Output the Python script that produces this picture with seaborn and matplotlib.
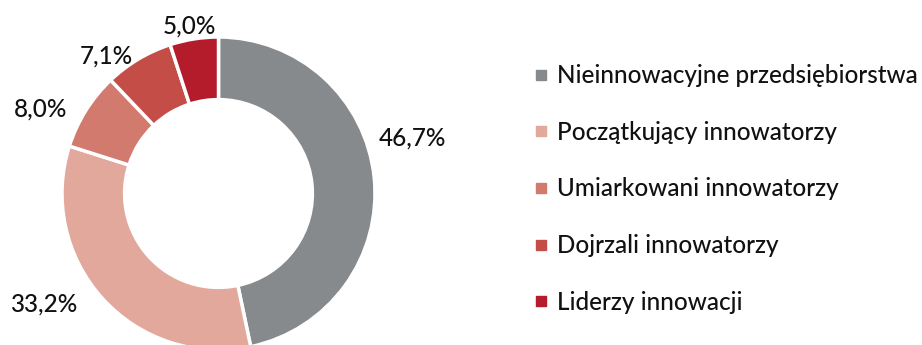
import matplotlib
matplotlib.use("Agg")
import matplotlib.pyplot as plt
from matplotlib.lines import Line2D
import seaborn as sns

categories = [
    "Nieinnowacyjne przedsiębiorstwa",
    "Początkujący innowatorzy",
    "Umiarkowani innowatorzy",
    "Dojrzali innowatorzy",
    "Liderzy innowacji",
]
shares = [46.7, 33.2, 8.0, 7.1, 5.0]
value_labels = ["46,7%", "33,2%", "8,0%", "7,1%", "5,0%"]

sns.set_theme(style="white")
plt.rcParams["font.family"] = ["Lato", "DejaVu Sans"]

palette = sns.color_palette(["#868A8C", "#E1A89B", "#D37A6E", "#C44D48", "#B41B2B"])

W, H = 922, 345
fig = plt.figure(figsize=(W / 100, H / 100), dpi=100)
fig.patch.set_facecolor("white")

# donut geometry in pixels
cx, cy, R = 218.5, 151.5, 156.5
ax = fig.add_axes([0, 0, 460 / W, 1])
wedges, _ = ax.pie(
    shares,
    colors=palette,
    startangle=90,
    counterclock=False,
    radius=1.0,
    wedgeprops=dict(width=0.4, edgecolor="white", linewidth=2.5),
)
ax.set_aspect("auto")
ax.set_xlim((0 - cx) / R, (460 - cx) / R)
ax.set_ylim((0 - cy) / R, (H - cy) / R)
ax.axis("off")

text_kw = dict(fontsize=17.5, color="#111111", fontweight="medium")

# value labels placed around the ring
label_pos = [(1.236, 0.355), (-1.118, -0.706), (-1.135, 0.537), (-0.714, 0.879), (-0.188, 1.070)]
for (lx, ly), txt in zip(label_pos, value_labels):
    ax.text(lx, ly, txt, ha="center", va="center", clip_on=False, **text_kw)

handles = [
    Line2D([0], [0], marker="s", linestyle="none", markersize=7.3,
           markerfacecolor=c, markeredgecolor=c)
    for c in palette
]
leg = fig.legend(
    handles, categories,
    loc="center left",
    bbox_to_anchor=(531 / W, 1 - 189 / H),
    frameon=False,
    prop=dict(size=17.5, weight="medium"),
    labelspacing=1.38,
    handlelength=0.8,
    handletextpad=0.25,
    borderaxespad=0,
    borderpad=0,
    labelcolor="#111111",
)

fig.savefig("out.png", dpi=100, facecolor="white")
